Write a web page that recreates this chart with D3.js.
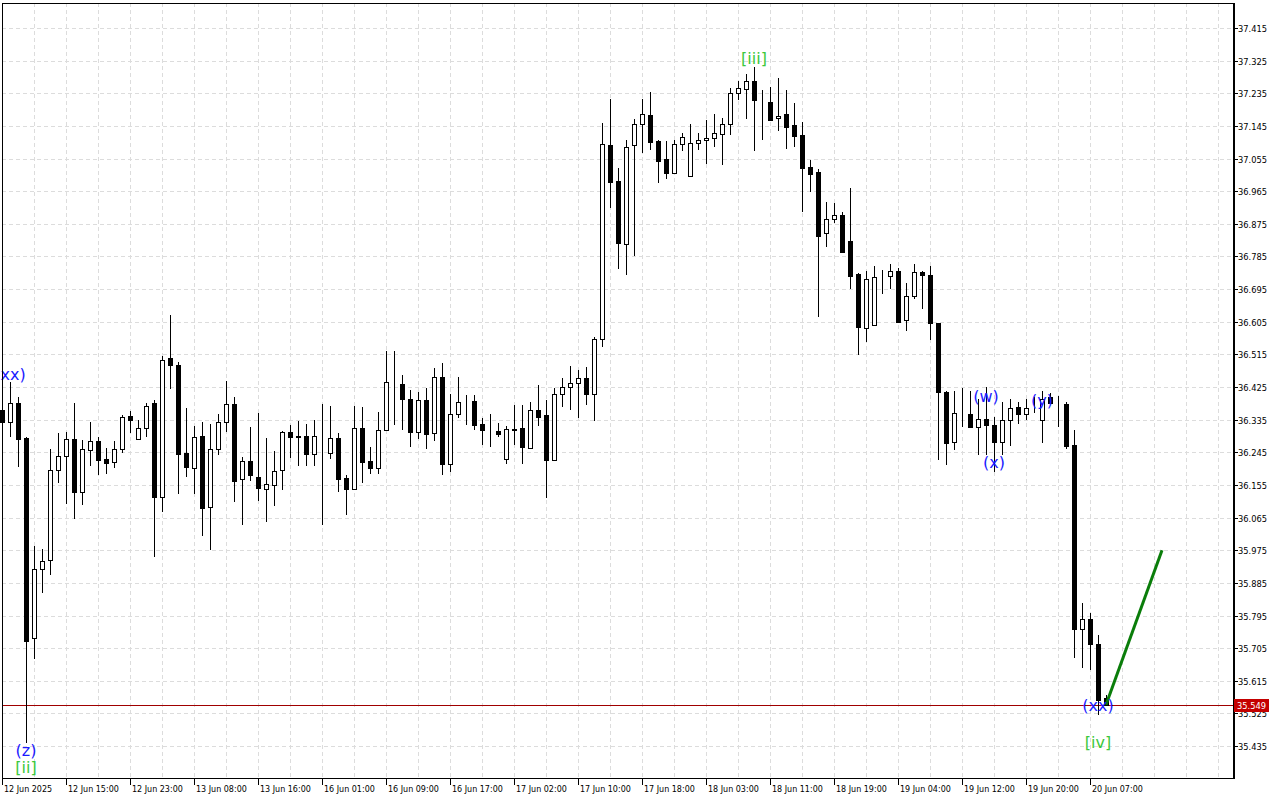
<!DOCTYPE html>
<html>
<head>
<meta charset="utf-8">
<script src="https://cdn.jsdelivr.net/npm/d3@7/dist/d3.min.js"></script>
<style>
html,body{margin:0;padding:0;background:#fff;}
svg{display:block;}
</style>
</head>
<body>
<svg id="chart" width="1280" height="800"></svg>
<script>
// ---- DATA ----
const opens = [36.362,36.330,36.380,36.284,35.732,35.923,35.947,36.196,36.234,36.281,
36.137,36.251,36.276,36.226,36.218,36.255,36.344,36.281,36.311,36.380,
36.121,36.505,36.486,36.242,36.201,36.290,36.095,36.253,36.328,36.378,
36.171,36.220,36.176,36.143,36.154,36.196,36.300,36.290,36.290,36.241,
36.248,36.244,36.284,36.174,36.145,36.311,36.220,36.201,36.307,36.433,
36.433,36.391,36.302,36.389,36.298,36.452,36.214,36.350,36.383,36.387,
36.322,36.306,36.304,36.226,36.309,36.311,36.258,36.361,36.347,36.223,
36.405,36.424,36.435,36.449,36.405,36.557,37.092,36.993,36.819,37.092,
37.150,37.174,37.103,37.054,37.014,37.094,37.006,37.097,37.105,37.111,
37.122,37.150,37.235,37.246,37.268,37.213,37.210,37.166,37.177,37.147,
37.119,37.032,37.017,36.849,36.888,36.899,36.828,36.736,36.587,36.595,
36.728,36.730,36.744,36.609,36.675,36.741,36.733,36.603,36.411,36.273,
36.352,36.350,36.314,36.336,36.320,36.274,36.333,36.371,36.350,36.378,
36.333,36.397,36.377,36.378,36.264,35.757,35.785,35.716,35.567];
const highs = [36.389,36.440,36.397,36.286,35.987,35.978,36.253,36.299,36.301,36.382,
36.279,36.330,36.287,36.256,36.276,36.348,36.359,36.333,36.381,36.389,
36.511,36.624,36.494,36.366,36.318,36.329,36.323,36.350,36.442,36.398,
36.232,36.315,36.354,36.285,36.249,36.304,36.320,36.331,36.323,36.334,
36.378,36.373,36.298,36.183,36.373,36.370,36.260,36.356,36.524,36.524,
36.458,36.417,36.411,36.422,36.478,36.491,36.406,36.452,36.403,36.403,
36.339,36.351,36.325,36.317,36.376,36.376,36.384,36.431,36.389,36.422,
36.449,36.483,36.472,36.480,36.564,37.153,37.219,37.028,37.106,37.164,
37.219,37.238,37.106,37.103,37.106,37.125,37.150,37.125,37.161,37.178,
37.166,37.250,37.268,37.288,37.307,37.243,37.252,37.277,37.243,37.208,
37.155,37.051,37.025,36.934,36.932,36.907,36.973,36.739,36.744,36.758,
36.748,36.764,36.752,36.711,36.764,36.744,36.758,36.603,36.414,36.413,
36.422,36.413,36.391,36.425,36.343,36.383,36.391,36.383,36.391,36.398,
36.413,36.408,36.400,36.384,36.307,35.829,35.801,35.741,35.577];
const lows = [36.320,36.290,36.207,35.447,35.679,35.861,35.910,36.164,36.106,36.065,
36.103,36.210,36.186,36.189,36.205,36.247,36.302,36.281,36.290,35.960,
36.084,36.422,36.132,36.180,36.134,36.017,35.978,36.241,36.305,36.112,
36.048,36.168,36.114,36.055,36.101,36.145,36.233,36.211,36.211,36.211,
36.048,36.230,36.139,36.076,36.145,36.164,36.187,36.187,36.306,36.324,
36.309,36.263,36.284,36.258,36.279,36.185,36.194,36.343,36.323,36.309,
36.268,36.263,36.290,36.217,36.268,36.217,36.256,36.321,36.123,36.223,
36.374,36.365,36.343,36.378,36.335,36.539,36.922,36.753,36.737,36.789,
37.074,37.082,36.991,37.002,37.014,37.079,37.006,37.082,37.044,37.090,
37.041,37.124,37.220,37.168,37.079,37.110,37.160,37.135,37.085,37.090,
36.911,36.966,36.622,36.815,36.879,36.798,36.697,36.515,36.553,36.595,
36.684,36.697,36.605,36.582,36.670,36.642,36.557,36.226,36.212,36.253,
36.318,36.314,36.240,36.240,36.194,36.240,36.264,36.325,36.336,36.355,
36.273,36.380,36.318,36.258,35.680,35.652,35.649,35.523,35.549];
const closes = [36.329,36.380,36.283,35.726,35.923,35.945,36.196,36.236,36.281,36.137,
36.253,36.276,36.225,36.215,36.255,36.343,36.333,36.311,36.374,36.121,
36.500,36.486,36.241,36.205,36.288,36.092,36.253,36.328,36.378,36.167,
36.220,36.182,36.146,36.157,36.193,36.300,36.287,36.287,36.241,36.289,
36.248,36.284,36.172,36.145,36.311,36.219,36.201,36.306,36.438,36.433,
36.391,36.302,36.389,36.295,36.452,36.214,36.350,36.383,36.383,36.321,
36.306,36.306,36.296,36.309,36.306,36.261,36.361,36.343,36.225,36.405,
36.424,36.435,36.449,36.405,36.557,37.094,36.991,36.823,37.086,37.150,
37.177,37.102,37.049,37.016,37.094,37.114,37.097,37.105,37.111,37.125,
37.150,37.235,37.249,37.268,37.216,37.213,37.162,37.173,37.143,37.118,
37.028,37.013,36.842,36.888,36.899,36.798,36.732,36.590,36.722,36.728,
36.728,36.744,36.605,36.675,36.741,36.733,36.603,36.411,36.270,36.353,
36.352,36.314,36.336,36.320,36.274,36.333,36.366,36.350,36.366,36.378,
36.393,36.380,36.377,36.263,35.757,35.785,35.716,35.562,35.549];

const priceTicks = ["37.415","37.325","37.235","37.145","37.055","36.965","36.875","36.785",
"36.695","36.605","36.515","36.425","36.335","36.245","36.155","36.065","35.975","35.885",
"35.795","35.705","35.615","35.525","35.435"];
const timeLabels = ["12 Jun 2025","12 Jun 15:00","12 Jun 23:00","13 Jun 08:00","13 Jun 16:00",
"16 Jun 01:00","16 Jun 09:00","16 Jun 17:00","17 Jun 02:00","17 Jun 10:00","17 Jun 18:00",
"18 Jun 03:00","18 Jun 11:00","18 Jun 19:00","19 Jun 04:00","19 Jun 12:00","19 Jun 20:00","20 Jun 07:00"];
const timeLabelBars = [0,8,16,24,32,40,48,56,64,72,80,88,96,104,112,120,128,136];

const currentPrice = 35.549;
const forecastBars = [138, 145];
const forecastPrices = [35.549, 35.975];

const waveText  = ["(xx)","(z)","[ii]","[iii]","(w)","(x)","(y)","(xx)","[iv]"];
const waveBar   = [1, 3, 3, 94, 123, 124, 130, 137, 137];
const wavePrice = [36.461, 35.424, 35.375, 37.332, 36.398, 36.216, 36.387, 35.548, 35.446];
const waveMinor = [true, true, false, false, true, true, true, true, false];

// ---- LAYOUT ----
const L = 2, R = 1233, T = 3, B = 778;
const svg = d3.select("#chart");
const barW = 8;
const x = d3.scaleLinear().domain([0, (R - L) / barW]).range([L, R]);
const y = d3.scaleLinear().domain([35.3444, 37.4839]).range([B + 1, T]);

const candles = opens.map((o, i) => ({i, o, h: highs[i], l: lows[i], c: closes[i]}));

svg.append("rect").attr("width", 1280).attr("height", 800).attr("fill", "#fff");

const grid = svg.append("g").attr("stroke", "#dcdcdc").attr("stroke-dasharray", "4,3")
  .attr("shape-rendering", "crispEdges");
grid.selectAll("line.h").data(priceTicks).join("line")
  .attr("x1", L).attr("x2", R)
  .attr("y1", d => Math.round(y(+d)) + 0.5).attr("y2", d => Math.round(y(+d)) + 0.5);
const vBars = d3.range(4, (R - L) / barW, 4);
grid.selectAll("line.v").data(vBars).join("line")
  .attr("y1", T).attr("y2", B)
  .attr("x1", d => Math.round(x(d)) + 0.5).attr("x2", d => Math.round(x(d)) + 0.5);

// current price line
const cpY = Math.round(y(currentPrice)) + 0.5;
svg.append("line").attr("x1", L).attr("x2", R).attr("y1", cpY).attr("y2", cpY)
  .attr("stroke", "#a00000").attr("stroke-width", 1).attr("shape-rendering", "crispEdges");

// candles
const cg = svg.append("g").attr("shape-rendering", "crispEdges");
const cs = cg.selectAll("g").data(candles).join("g");
cs.append("line")
  .attr("x1", d => Math.round(x(d.i)) + 0.5).attr("x2", d => Math.round(x(d.i)) + 0.5)
  .attr("y1", d => Math.round(y(d.h))).attr("y2", d => Math.round(y(d.l)) + 1)
  .attr("stroke", "#000").attr("stroke-width", 1);
cs.append("rect")
  .attr("x", d => Math.round(x(d.i)) - 1.5)
  .attr("width", 4)
  .attr("y", d => Math.round(y(Math.max(d.o, d.c))) + 0.5)
  .attr("height", d => Math.max(0, Math.round(y(Math.min(d.o, d.c))) - Math.round(y(Math.max(d.o, d.c)))))
  .attr("fill", d => d.c >= d.o ? "#fff" : "#000")
  .attr("stroke", "#000").attr("stroke-width", 1);

// forecast line
svg.append("line")
  .attr("x1", x(forecastBars[0])).attr("y1", y(forecastPrices[0]))
  .attr("x2", x(forecastBars[1])).attr("y2", y(forecastPrices[1]))
  .attr("stroke", "#0a7d0a").attr("stroke-width", 3);

// wave labels
svg.append("g").selectAll("text").data(waveText).join("text")
  .attr("x", (d, k) => x(waveBar[k]))
  .attr("y", (d, k) => y(wavePrice[k]))
  .attr("text-anchor", "middle").attr("dominant-baseline", "central")
  .attr("font-family", "DejaVu Sans, sans-serif").attr("font-size", 16)
  .attr("fill", (d, k) => waveMinor[k] ? "#1a1aff" : "#3cc83c")
  .text(d => d);

// frame
svg.append("rect").attr("x", L + 0.5).attr("y", T + 0.5).attr("width", R - L).attr("height", B - T)
  .attr("fill", "none").attr("stroke", "#000").attr("shape-rendering", "crispEdges");
svg.append("line").attr("x1", R + 0.5).attr("x2", R + 0.5).attr("y1", T).attr("y2", B + 1)
  .attr("stroke", "#000").attr("stroke-width", 2).attr("shape-rendering", "crispEdges");

// right price axis
const ax = svg.append("g").attr("font-family", "DejaVu Sans, sans-serif").attr("font-size", 8.3);
priceTicks.forEach(t => {
  const yy = Math.round(y(+t)) + 0.5;
  ax.append("line").attr("x1", R + 1).attr("x2", R + 5).attr("y1", yy).attr("y2", yy)
    .attr("stroke", "#000").attr("shape-rendering", "crispEdges");
  ax.append("text").attr("x", R + 5).attr("y", yy).attr("dominant-baseline", "central")
    .attr("fill", "#000").text(t);
});
ax.append("rect").attr("x", R + 1).attr("y", cpY - 6.5).attr("width", 35).attr("height", 13)
  .attr("fill", "#c40000");
ax.append("text").attr("x", R + 4).attr("y", cpY).attr("dominant-baseline", "central")
  .attr("fill", "#fff").text(currentPrice.toFixed(3));

// bottom time axis
const tx = svg.append("g").attr("font-family", "DejaVu Sans, sans-serif").attr("font-size", 8);
timeLabels.forEach((t, k) => {
  const xx = Math.round(x(timeLabelBars[k])) + 0.5;
  tx.append("line").attr("x1", xx).attr("x2", xx).attr("y1", B).attr("y2", B + 7)
    .attr("stroke", "#000").attr("shape-rendering", "crispEdges");
  tx.append("text").attr("x", xx + 1.5).attr("y", B + 14).attr("fill", "#000").text(t);
});
</script>
</body>
</html>
